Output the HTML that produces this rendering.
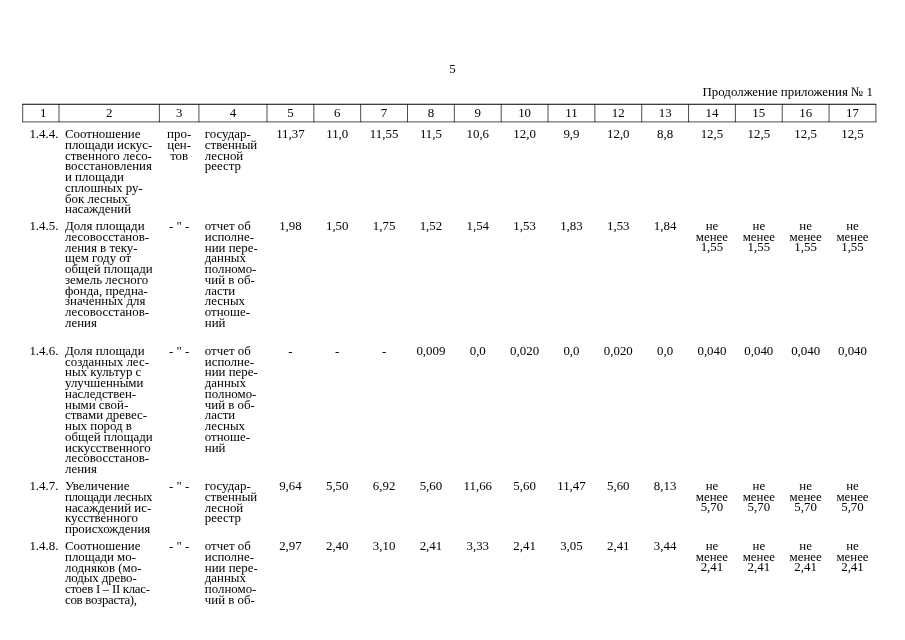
<!DOCTYPE html>
<html lang="ru"><head><meta charset="utf-8"><title>Продолжение приложения № 1</title>
<style>
html,body{margin:0;padding:0;background:#fff;}
body{width:905px;height:640px;position:relative;overflow:hidden;font-family:"Liberation Serif",serif;font-size:12.9px;line-height:10.748px;color:#000;}
.c{position:absolute;white-space:nowrap;}
.ctr{text-align:center;}
.h{position:absolute;top:108.0px;text-align:center;white-space:nowrap;}
.grid{position:absolute;left:0;top:0;width:905px;height:640px;}
.pn{position:absolute;left:440px;width:25px;top:64.0px;text-align:center;}
.cont{position:absolute;right:32.0px;top:87.0px;white-space:nowrap;}
</style></head><body>
<div class="pn">5</div>
<div class="cont">Продолжение приложения № 1</div>
<svg class="grid" width="905" height="640" viewBox="0 0 905 640">
<line x1="22.35" y1="104.2" x2="876.27" y2="104.2" stroke="#000" stroke-width="1.1"/>
<line x1="22.35" y1="121.9" x2="876.27" y2="121.9" stroke="#000" stroke-width="0.7"/>
<line x1="22.7" y1="104.2" x2="22.7" y2="122.2" stroke="#000" stroke-width="0.7"/>
<line x1="59.0" y1="104.2" x2="59.0" y2="122.2" stroke="#000" stroke-width="0.7"/>
<line x1="159.4" y1="104.2" x2="159.4" y2="122.2" stroke="#000" stroke-width="0.7"/>
<line x1="198.9" y1="104.2" x2="198.9" y2="122.2" stroke="#000" stroke-width="0.7"/>
<line x1="267.0" y1="104.2" x2="267.0" y2="122.2" stroke="#000" stroke-width="0.7"/>
<line x1="313.84" y1="104.2" x2="313.84" y2="122.2" stroke="#000" stroke-width="0.7"/>
<line x1="360.68" y1="104.2" x2="360.68" y2="122.2" stroke="#000" stroke-width="0.7"/>
<line x1="407.52" y1="104.2" x2="407.52" y2="122.2" stroke="#000" stroke-width="0.7"/>
<line x1="454.36" y1="104.2" x2="454.36" y2="122.2" stroke="#000" stroke-width="0.7"/>
<line x1="501.2" y1="104.2" x2="501.2" y2="122.2" stroke="#000" stroke-width="0.7"/>
<line x1="548.04" y1="104.2" x2="548.04" y2="122.2" stroke="#000" stroke-width="0.7"/>
<line x1="594.88" y1="104.2" x2="594.88" y2="122.2" stroke="#000" stroke-width="0.7"/>
<line x1="641.72" y1="104.2" x2="641.72" y2="122.2" stroke="#000" stroke-width="0.7"/>
<line x1="688.56" y1="104.2" x2="688.56" y2="122.2" stroke="#000" stroke-width="0.7"/>
<line x1="735.4" y1="104.2" x2="735.4" y2="122.2" stroke="#000" stroke-width="0.7"/>
<line x1="782.24" y1="104.2" x2="782.24" y2="122.2" stroke="#000" stroke-width="0.7"/>
<line x1="829.08" y1="104.2" x2="829.08" y2="122.2" stroke="#000" stroke-width="0.7"/>
<line x1="875.92" y1="104.2" x2="875.92" y2="122.2" stroke="#000" stroke-width="0.7"/>
</svg>
<div class="h" style="left:25.20px;width:36.30px">1</div>
<div class="h" style="left:59.00px;width:100.40px">2</div>
<div class="h" style="left:159.40px;width:39.50px">3</div>
<div class="h" style="left:198.90px;width:68.10px">4</div>
<div class="h" style="left:267.00px;width:46.84px">5</div>
<div class="h" style="left:313.84px;width:46.84px">6</div>
<div class="h" style="left:360.68px;width:46.84px">7</div>
<div class="h" style="left:407.52px;width:46.84px">8</div>
<div class="h" style="left:454.36px;width:46.84px">9</div>
<div class="h" style="left:501.20px;width:46.84px">10</div>
<div class="h" style="left:548.04px;width:46.84px">11</div>
<div class="h" style="left:594.88px;width:46.84px">12</div>
<div class="h" style="left:641.72px;width:46.84px">13</div>
<div class="h" style="left:688.56px;width:46.84px">14</div>
<div class="h" style="left:735.40px;width:46.84px">15</div>
<div class="h" style="left:782.24px;width:46.84px">16</div>
<div class="h" style="left:829.08px;width:46.84px">17</div>
<div class="c" style="left:29.4px;top:129.1px">1.4.4.</div>
<div class="c" style="left:65px;top:129.1px">Соотношение<br>площади искус-<br>ственного лесо-<br>восстановления<br>и площади<br>сплошных ру-<br>бок лесных<br>насаждений</div>
<div class="c ctr" style="left:159.4px;width:39.50px;top:129.1px">про-<br>цен-<br>тов</div>
<div class="c" style="left:204.8px;top:129.1px">государ-<br>ственный<br>лесной<br>реестр</div>
<div class="c ctr" style="left:267.00px;width:46.84px;top:129.1px">11,37</div>
<div class="c ctr" style="left:313.84px;width:46.84px;top:129.1px">11,0</div>
<div class="c ctr" style="left:360.68px;width:46.84px;top:129.1px">11,55</div>
<div class="c ctr" style="left:407.52px;width:46.84px;top:129.1px">11,5</div>
<div class="c ctr" style="left:454.36px;width:46.84px;top:129.1px">10,6</div>
<div class="c ctr" style="left:501.20px;width:46.84px;top:129.1px">12,0</div>
<div class="c ctr" style="left:548.04px;width:46.84px;top:129.1px">9,9</div>
<div class="c ctr" style="left:594.88px;width:46.84px;top:129.1px">12,0</div>
<div class="c ctr" style="left:641.72px;width:46.84px;top:129.1px">8,8</div>
<div class="c ctr" style="left:688.56px;width:46.84px;top:129.1px">12,5</div>
<div class="c ctr" style="left:735.40px;width:46.84px;top:129.1px">12,5</div>
<div class="c ctr" style="left:782.24px;width:46.84px;top:129.1px">12,5</div>
<div class="c ctr" style="left:829.08px;width:46.84px;top:129.1px">12,5</div>
<div class="c" style="left:29.4px;top:221.1px">1.4.5.</div>
<div class="c" style="left:65px;top:221.1px">Доля площади<br>лесовосстанов-<br>ления в теку-<br>щем году от<br>общей площади<br>земель лесного<br>фонда, предна-<br>значенных для<br>лесовосстанов-<br>ления</div>
<div class="c ctr" style="left:159.4px;width:39.50px;top:221.1px">- " -</div>
<div class="c" style="left:204.8px;top:221.1px">отчет об<br>исполне-<br>нии пере-<br>данных<br>полномо-<br>чий в об-<br>ласти<br>лесных<br>отноше-<br>ний</div>
<div class="c ctr" style="left:267.00px;width:46.84px;top:221.1px">1,98</div>
<div class="c ctr" style="left:313.84px;width:46.84px;top:221.1px">1,50</div>
<div class="c ctr" style="left:360.68px;width:46.84px;top:221.1px">1,75</div>
<div class="c ctr" style="left:407.52px;width:46.84px;top:221.1px">1,52</div>
<div class="c ctr" style="left:454.36px;width:46.84px;top:221.1px">1,54</div>
<div class="c ctr" style="left:501.20px;width:46.84px;top:221.1px">1,53</div>
<div class="c ctr" style="left:548.04px;width:46.84px;top:221.1px">1,83</div>
<div class="c ctr" style="left:594.88px;width:46.84px;top:221.1px">1,53</div>
<div class="c ctr" style="left:641.72px;width:46.84px;top:221.1px">1,84</div>
<div class="c ctr" style="left:688.56px;width:46.84px;top:221.1px;line-height:10.5px">не<br>менее<br>1,55</div>
<div class="c ctr" style="left:735.40px;width:46.84px;top:221.1px;line-height:10.5px">не<br>менее<br>1,55</div>
<div class="c ctr" style="left:782.24px;width:46.84px;top:221.1px;line-height:10.5px">не<br>менее<br>1,55</div>
<div class="c ctr" style="left:829.08px;width:46.84px;top:221.1px;line-height:10.5px">не<br>менее<br>1,55</div>
<div class="c" style="left:29.4px;top:345.9px">1.4.6.</div>
<div class="c" style="left:65px;top:345.9px">Доля площади<br>созданных лес-<br>ных культур с<br>улучшенными<br>наследствен-<br>ными свой-<br>ствами древес-<br>ных пород в<br>общей площади<br>искусственного<br>лесовосстанов-<br>ления</div>
<div class="c ctr" style="left:159.4px;width:39.50px;top:345.9px">- " -</div>
<div class="c" style="left:204.8px;top:345.9px">отчет об<br>исполне-<br>нии пере-<br>данных<br>полномо-<br>чий в об-<br>ласти<br>лесных<br>отноше-<br>ний</div>
<div class="c ctr" style="left:267.00px;width:46.84px;top:345.9px">-</div>
<div class="c ctr" style="left:313.84px;width:46.84px;top:345.9px">-</div>
<div class="c ctr" style="left:360.68px;width:46.84px;top:345.9px">-</div>
<div class="c ctr" style="left:407.52px;width:46.84px;top:345.9px">0,009</div>
<div class="c ctr" style="left:454.36px;width:46.84px;top:345.9px">0,0</div>
<div class="c ctr" style="left:501.20px;width:46.84px;top:345.9px">0,020</div>
<div class="c ctr" style="left:548.04px;width:46.84px;top:345.9px">0,0</div>
<div class="c ctr" style="left:594.88px;width:46.84px;top:345.9px">0,020</div>
<div class="c ctr" style="left:641.72px;width:46.84px;top:345.9px">0,0</div>
<div class="c ctr" style="left:688.56px;width:46.84px;top:345.9px">0,040</div>
<div class="c ctr" style="left:735.40px;width:46.84px;top:345.9px">0,040</div>
<div class="c ctr" style="left:782.24px;width:46.84px;top:345.9px">0,040</div>
<div class="c ctr" style="left:829.08px;width:46.84px;top:345.9px">0,040</div>
<div class="c" style="left:29.4px;top:481.1px">1.4.7.</div>
<div class="c" style="left:65px;top:481.1px">Увеличение<br><span style="letter-spacing:-0.38px">площади лесных</span><br>насаждений ис-<br>кусственного<br>происхождения</div>
<div class="c ctr" style="left:159.4px;width:39.50px;top:481.1px">- " -</div>
<div class="c" style="left:204.8px;top:481.1px">государ-<br>ственный<br>лесной<br>реестр</div>
<div class="c ctr" style="left:267.00px;width:46.84px;top:481.1px">9,64</div>
<div class="c ctr" style="left:313.84px;width:46.84px;top:481.1px">5,50</div>
<div class="c ctr" style="left:360.68px;width:46.84px;top:481.1px">6,92</div>
<div class="c ctr" style="left:407.52px;width:46.84px;top:481.1px">5,60</div>
<div class="c ctr" style="left:454.36px;width:46.84px;top:481.1px">11,66</div>
<div class="c ctr" style="left:501.20px;width:46.84px;top:481.1px">5,60</div>
<div class="c ctr" style="left:548.04px;width:46.84px;top:481.1px">11,47</div>
<div class="c ctr" style="left:594.88px;width:46.84px;top:481.1px">5,60</div>
<div class="c ctr" style="left:641.72px;width:46.84px;top:481.1px">8,13</div>
<div class="c ctr" style="left:688.56px;width:46.84px;top:481.1px;line-height:10.5px">не<br>менее<br>5,70</div>
<div class="c ctr" style="left:735.40px;width:46.84px;top:481.1px;line-height:10.5px">не<br>менее<br>5,70</div>
<div class="c ctr" style="left:782.24px;width:46.84px;top:481.1px;line-height:10.5px">не<br>менее<br>5,70</div>
<div class="c ctr" style="left:829.08px;width:46.84px;top:481.1px;line-height:10.5px">не<br>менее<br>5,70</div>
<div class="c" style="left:29.4px;top:541.1px">1.4.8.</div>
<div class="c" style="left:65px;top:541.1px">Соотношение<br>площади мо-<br>лодняков (мо-<br><span style="letter-spacing:-0.1px">лодых древо-</span><br><span style="letter-spacing:-0.31px">стоев I – II клас-</span><br><span style="letter-spacing:-0.3px">сов возраста),</span></div>
<div class="c ctr" style="left:159.4px;width:39.50px;top:541.1px">- " -</div>
<div class="c" style="left:204.8px;top:541.1px">отчет об<br>исполне-<br>нии пере-<br>данных<br>полномо-<br>чий в об-</div>
<div class="c ctr" style="left:267.00px;width:46.84px;top:541.1px">2,97</div>
<div class="c ctr" style="left:313.84px;width:46.84px;top:541.1px">2,40</div>
<div class="c ctr" style="left:360.68px;width:46.84px;top:541.1px">3,10</div>
<div class="c ctr" style="left:407.52px;width:46.84px;top:541.1px">2,41</div>
<div class="c ctr" style="left:454.36px;width:46.84px;top:541.1px">3,33</div>
<div class="c ctr" style="left:501.20px;width:46.84px;top:541.1px">2,41</div>
<div class="c ctr" style="left:548.04px;width:46.84px;top:541.1px">3,05</div>
<div class="c ctr" style="left:594.88px;width:46.84px;top:541.1px">2,41</div>
<div class="c ctr" style="left:641.72px;width:46.84px;top:541.1px">3,44</div>
<div class="c ctr" style="left:688.56px;width:46.84px;top:541.1px;line-height:10.5px">не<br>менее<br>2,41</div>
<div class="c ctr" style="left:735.40px;width:46.84px;top:541.1px;line-height:10.5px">не<br>менее<br>2,41</div>
<div class="c ctr" style="left:782.24px;width:46.84px;top:541.1px;line-height:10.5px">не<br>менее<br>2,41</div>
<div class="c ctr" style="left:829.08px;width:46.84px;top:541.1px;line-height:10.5px">не<br>менее<br>2,41</div>
</body></html>
